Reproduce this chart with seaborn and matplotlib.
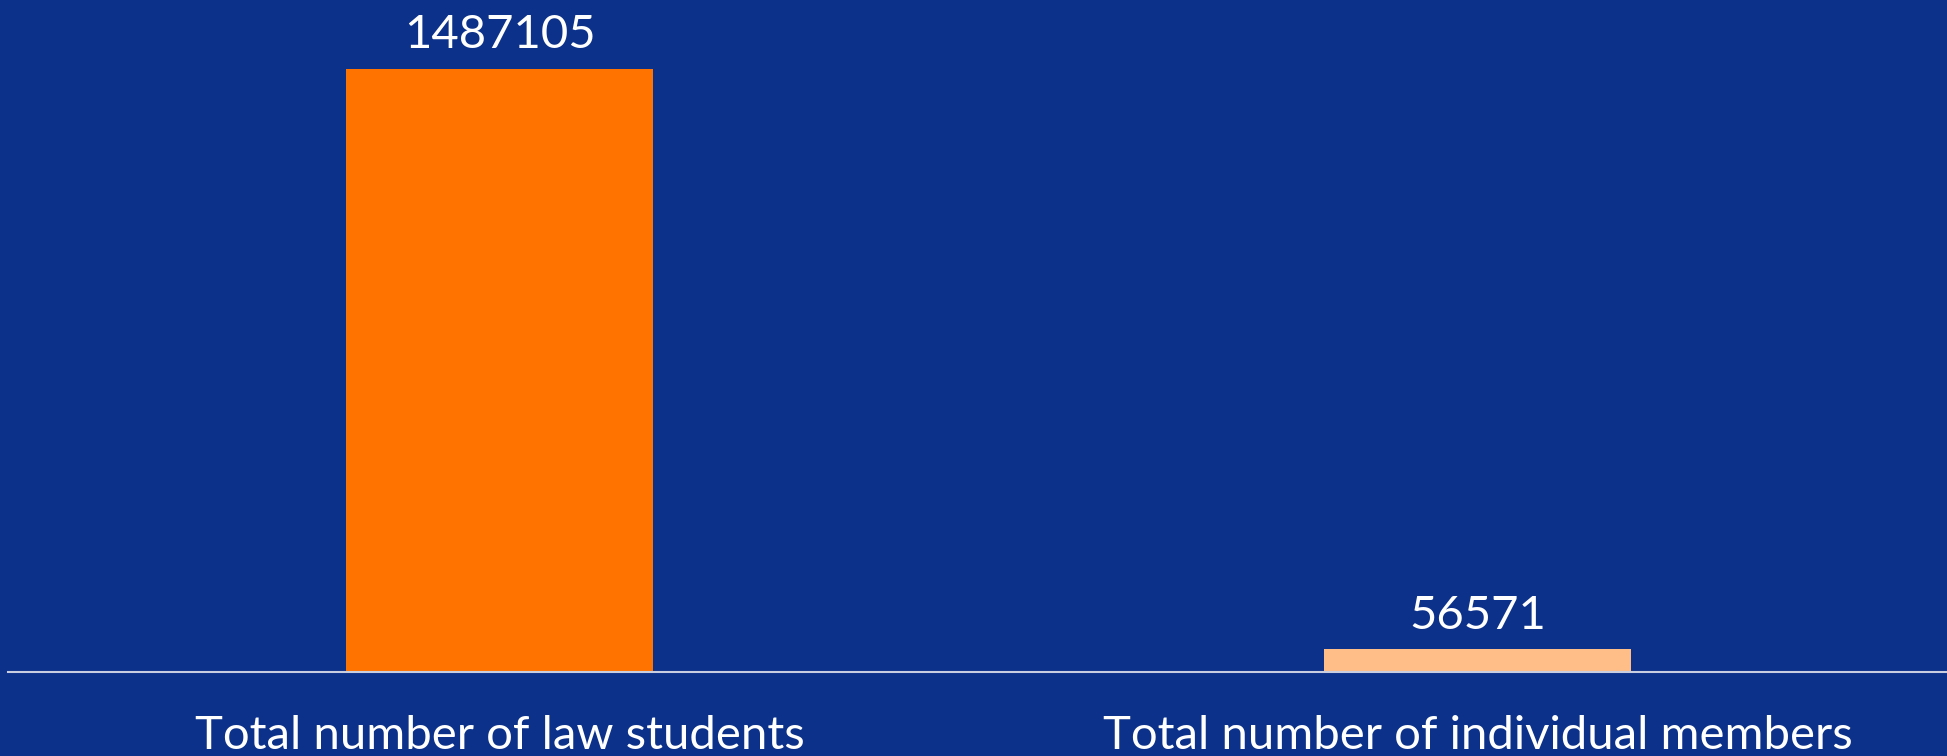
import matplotlib
matplotlib.use("Agg")
import numpy as np
import pandas as pd
import matplotlib.pyplot as plt
import seaborn as sns

categories = ["Total number of law students", "Total number of individual members"]
values = [1487105, 56571]
bar_colors = ["#FF7300", "#FFBE88"]

BG = "#0C318A"

sns.set_style("white")
plt.rcParams["font.family"] = ["Lato", "DejaVu Sans"]

df = pd.DataFrame({"category": categories, "value": values})

fig = plt.figure(figsize=(19.47, 7.56), dpi=100, facecolor=BG)
ax = fig.add_axes([8 / 1947, 84 / 756, 1 - 8 / 1947, 672 / 756])
ax.set_facecolor(BG)

sns.barplot(data=df, x="category", y="value", hue="category", palette=bar_colors,
            width=0.314, saturation=1, legend=False, linewidth=0, ax=ax)

for c in ax.containers:
    ax.bar_label(c, labels=[f"{int(v)}" for v in c.datavalues], padding=9,
                 color="white", fontsize=34)

ax.set_xlim(-0.503, 1.48)
ax.set_ylim(0, 1657260)

ax.set_yticks([])
ax.set_xlabel("")
ax.set_ylabel("")
ax.tick_params(axis="x", length=0, pad=31, labelsize=34, labelcolor="white")

for s in ["top", "left", "right"]:
    ax.spines[s].set_visible(False)
ax.spines["bottom"].set_color("#C9CFE0")
ax.spines["bottom"].set_linewidth(1.5)

fig.savefig("out.png", dpi=100, facecolor=BG)
